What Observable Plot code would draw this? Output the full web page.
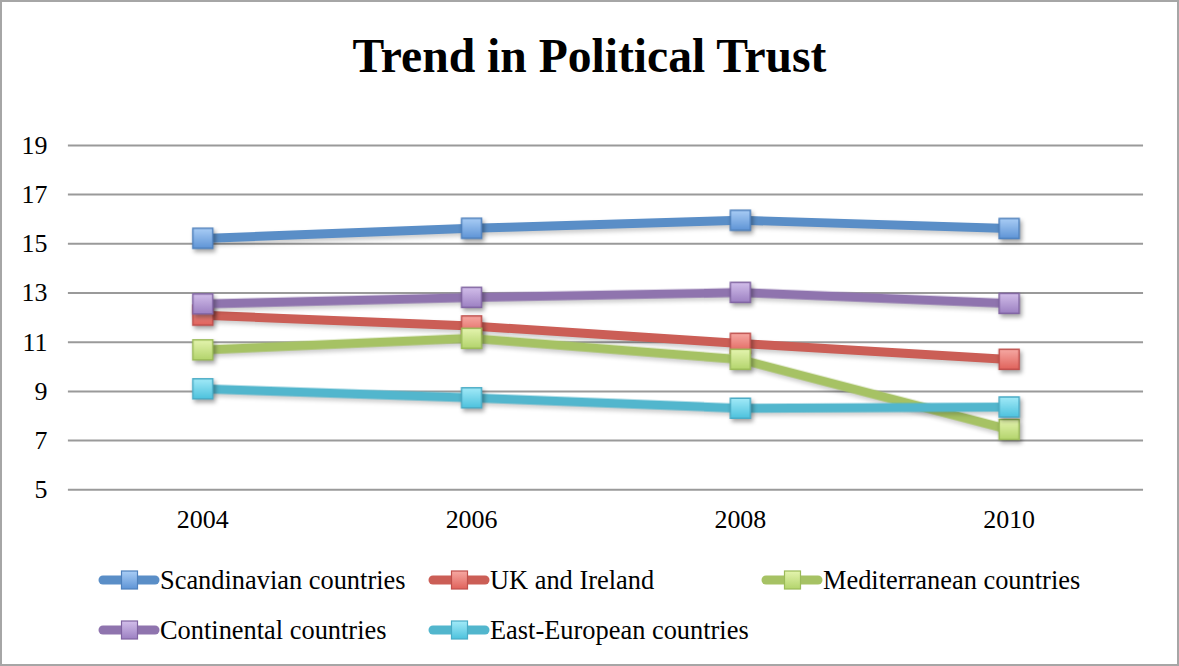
<!DOCTYPE html>
<html><head><meta charset="utf-8">
<script src="https://cdn.jsdelivr.net/npm/d3@7"></script>
<script src="https://cdn.jsdelivr.net/npm/@observablehq/plot@0.6"></script>
<style>
body{margin:0;background:#fff;}
#frame{position:relative;width:1179px;height:666px;box-sizing:border-box;border:2px solid #a6a6a6;font-family:"Liberation Serif","Times New Roman",serif;overflow:hidden;background:#fff;}
#title{position:absolute;left:-2px;width:1179px;top:24px;text-align:center;font-weight:bold;font-size:47.6px;line-height:60px;color:#000;}
#chart{position:absolute;left:-2px;top:94px;}
#legend{position:absolute;left:-2px;top:546px;}
#chart g[aria-label="dot"]{filter:drop-shadow(2px 3px 2px rgba(0,0,0,0.35));}
#chart g[aria-label="line"]{filter:drop-shadow(1px 3px 2px rgba(0,0,0,0.2));}
</style></head>
<body>
<div id="frame">
  <div id="title">Trend in Political Trust</div>
  <div id="chart"></div>
  <div id="legend"></div>
</div>
<script>
const years = [2004, 2006, 2008, 2010];
const seriesNames = ["Scandinavian countries", "UK and Ireland", "Mediterranean countries", "Continental countries", "East-European countries"];
const scandinavian = [15.22, 15.63, 15.96, 15.62];
const ukIreland = [12.10, 11.66, 10.95, 10.30];
const mediterranean = [10.69, 11.16, 10.30, 7.45];
const continental = [12.56, 12.82, 13.02, 12.58];
const eastEuropean = [9.11, 8.74, 8.32, 8.37];
const yTicks = [5, 7, 9, 11, 13, 15, 17, 19];

const lineColors = ["#5A8EC7", "#CB5E56", "#A6C264", "#8F74AE", "#52B6CD"];
const markTop = ["#A9CDF5", "#F6A8A2", "#E4F4AE", "#D2BEEA", "#A2EAF8"];
const markBot = ["#5E94D6", "#E0625B", "#B3D46C", "#9C80C2", "#4DC2DD"];
const markStroke = ["#4F81BD", "#C0504D", "#9BBB59", "#8064A2", "#4BACC6"];

const allValues = [scandinavian, ukIreland, mediterranean, continental, eastEuropean];
const rows = [];
allValues.forEach((vals, s) => vals.forEach((v, i) => rows.push({series: seriesNames[s], s, year: years[i], value: v})));

const marks = [
  Plot.ruleY(yTicks, {stroke: "#9a9a9a", strokeWidth: 2})
];
seriesNames.forEach((name, s) => {
  const d = rows.filter(r => r.s === s);
  marks.push(Plot.line(d, {x: "year", y: "value", stroke: lineColors[s], strokeWidth: 9, strokeLinejoin: "round", strokeLinecap: "round"}));
  marks.push(Plot.dot(d, {x: "year", y: "value", symbol: "square", r: 11.3, fill: `url(#grad${s})`, stroke: markStroke[s], strokeWidth: 1.5}));
});
marks.push(Plot.axisX({ticks: years, tickFormat: d => String(d), tickSize: 0, tickPadding: 20, fontSize: 26, label: null}));
marks.push(Plot.axisY({ticks: yTicks, tickSize: 0, tickPadding: 21, fontSize: 26, label: null}));

const plot = Plot.plot({
  width: 1179,
  height: 452,
  marginTop: 49,
  marginBottom: 58,
  marginLeft: 68,
  marginRight: 34,
  x: {domain: [2003, 2011], type: "linear"},
  y: {domain: [5, 19]},
  style: {fontFamily: '"Liberation Serif","Times New Roman",serif', color: "#000", background: "transparent", overflow: "visible"},
  marks
});
const defs = d3.select(plot).insert("defs", ":first-child");
seriesNames.forEach((n, s) => {
  const g = defs.append("linearGradient").attr("id", `grad${s}`).attr("x1", 0).attr("y1", 0).attr("x2", 0).attr("y2", 1);
  g.append("stop").attr("offset", "0%").attr("stop-color", markTop[s]);
  g.append("stop").attr("offset", "100%").attr("stop-color", markBot[s]);
});
document.getElementById("chart").appendChild(plot);

const legendItems = [
  {s: 0, x: 100, y: 32}, {s: 1, x: 430, y: 32}, {s: 2, x: 763, y: 32},
  {s: 3, x: 100, y: 82}, {s: 4, x: 430, y: 82}
];
const lsvg = d3.select("#legend").append("svg").attr("width", 1179).attr("height", 115);
const ldefs = lsvg.append("defs");
seriesNames.forEach((n, s) => {
  const g = ldefs.append("linearGradient").attr("id", `lgrad${s}`).attr("x1", 0).attr("y1", 0).attr("x2", 0).attr("y2", 1);
  g.append("stop").attr("offset", "0%").attr("stop-color", markTop[s]);
  g.append("stop").attr("offset", "100%").attr("stop-color", markBot[s]);
});
legendItems.forEach(it => {
  const g = lsvg.append("g").attr("transform", `translate(${it.x},${it.y})`);
  g.append("line").attr("x1", 3).attr("x2", 55).attr("y1", 0).attr("y2", 0)
    .attr("stroke", lineColors[it.s]).attr("stroke-width", 9).attr("stroke-linecap", "round");
  g.append("rect").attr("x", 21.5).attr("y", -9).attr("width", 16).attr("height", 18)
    .attr("fill", `url(#lgrad${it.s})`).attr("stroke", markStroke[it.s]).attr("stroke-width", 1.2);
  g.append("text").attr("x", 60).attr("y", 0).attr("dy", "0.34em")
    .attr("font-family", '"Liberation Serif","Times New Roman",serif').attr("font-size", 26.4).attr("fill", "#000")
    .text(seriesNames[it.s]);
});
</script>
</body></html>
